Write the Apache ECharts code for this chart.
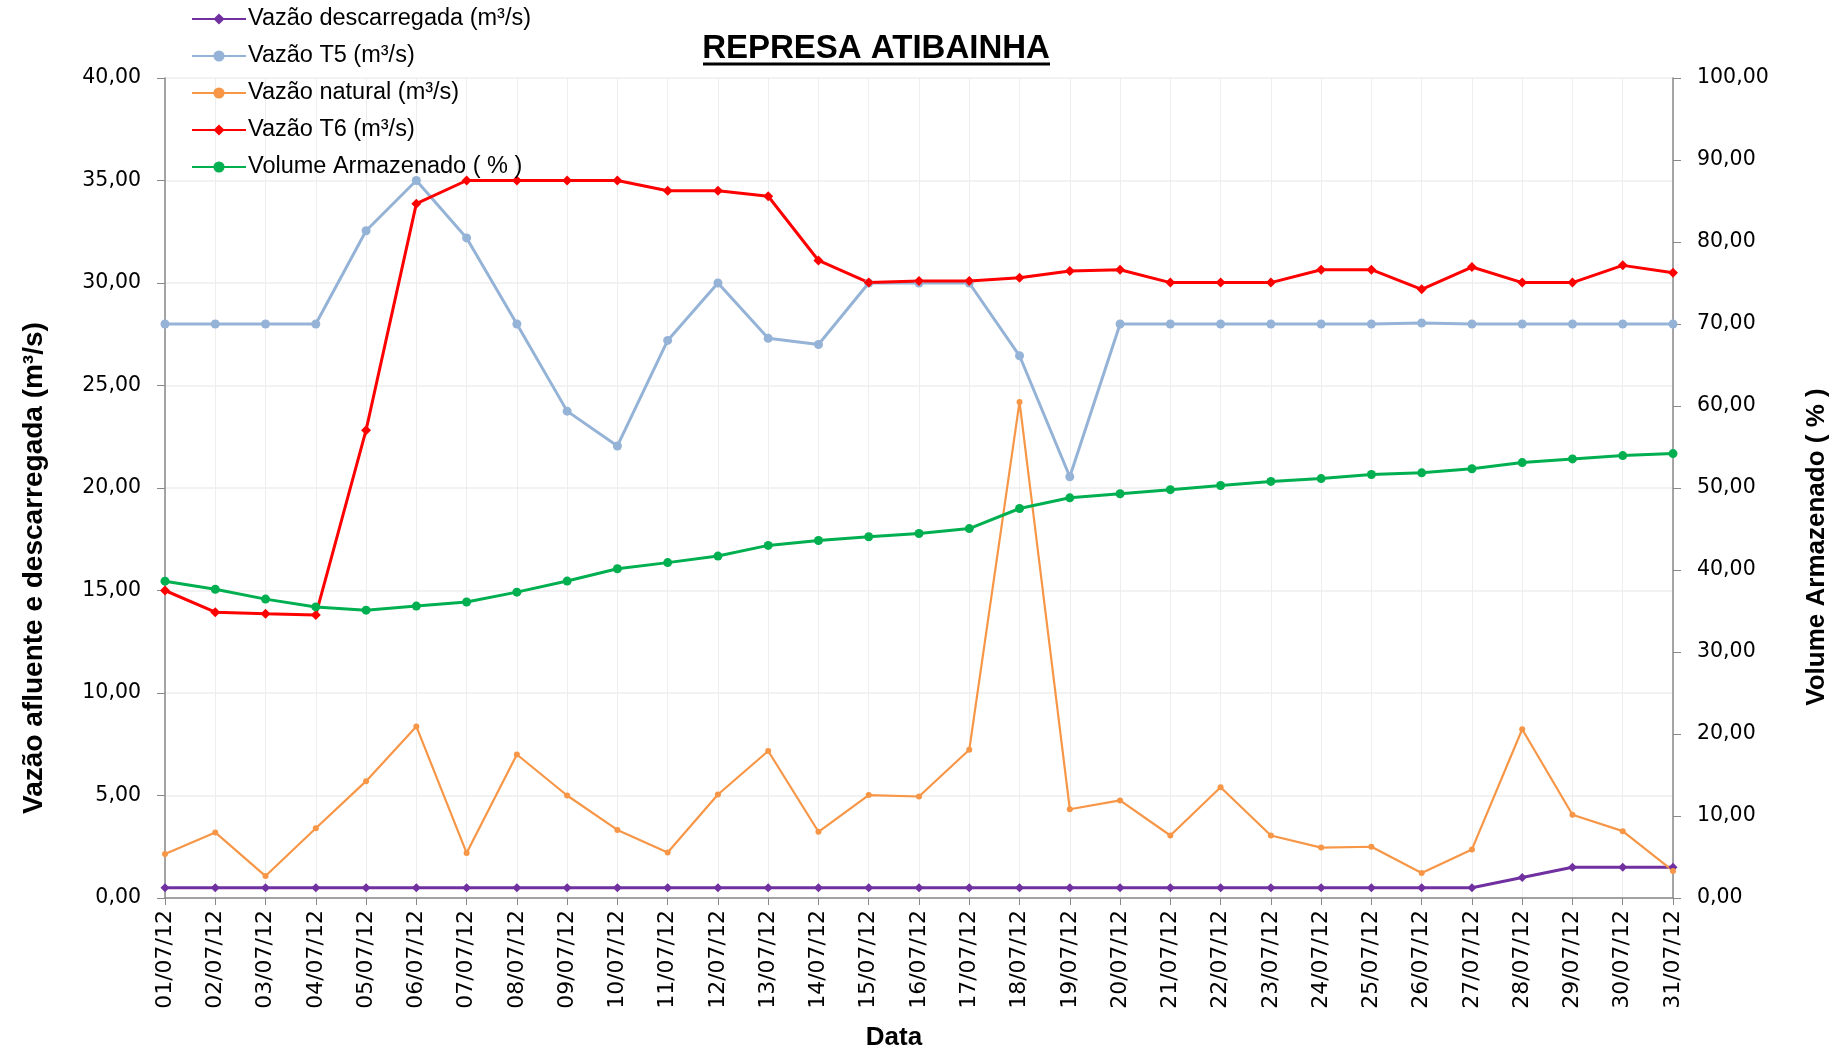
<!DOCTYPE html>
<html lang="pt">
<head>
    <meta charset="UTF-8">
    <title>Represa Atibainha</title>
    <style>
        html, body { margin: 0; padding: 0; background: #fff; }
    </style>
</head>
<body>
<div id="main" style="width: 1837px;height:1053px;"></div>
<script type="text/javascript" src="https://cdn.jsdelivr.net/npm/echarts@6/dist/echarts.min.js"></script>
<script type="text/javascript">

    // dias de julho/2012
    var datas = [];
    for (var d = 1; d <= 31; d++) {
        datas.push((d < 10 ? '0' + d : '' + d) + '/07/12');
    }

    var vazaoDescarregada = [0.5,0.5,0.5,0.5,0.5,0.5,0.5,0.5,0.5,0.5,0.5,0.5,0.5,0.5,0.5,0.5,0.5,0.5,0.5,0.5,
        0.5,0.5,0.5,0.5,0.5,0.5,0.5,1.0,1.5,1.5,1.5];
    var vazaoT5 = [28,28,28,28,32.55,35,32.2,28,23.75,22.05,27.2,30,27.3,27.0,30,30,30,26.45,20.55,28,
        28,28,28,28,28,28.05,28,28,28,28,28];
    var vazaoNatural = [2.15,3.2,1.07,3.4,5.7,8.37,2.2,7.0,5.0,3.32,2.22,5.05,7.17,3.23,5.02,4.95,7.23,24.2,4.33,4.76,
        3.05,5.4,3.05,2.46,2.5,1.22,2.37,8.23,4.06,3.26,1.32];
    var vazaoT6 = [15.0,13.94,13.87,13.81,22.82,33.87,35,35,35,35,34.5,34.5,34.23,31.1,30.02,30.1,30.1,30.26,30.58,30.65,
        30.02,30.02,30.02,30.65,30.65,29.69,30.78,30.02,30.02,30.86,30.5];
    var volumeArmazenado = [38.64,37.65,36.45,35.5,35.1,35.6,36.1,37.3,38.65,40.15,40.9,41.7,43.0,43.6,44.05,44.45,45.05,47.5,48.8,49.3,
        49.8,50.3,50.8,51.15,51.65,51.85,52.35,53.1,53.55,53.95,54.2];

    var fonte = 'Liberation Sans, Arial, sans-serif';
    var fonteEixo = 'DejaVu Sans, Verdana, sans-serif';

    function virgula(v) {
        return v.toFixed(2).replace('.', ',');
    }

    var myChart = echarts.init(document.getElementById('main'));

    myChart.setOption({
        animation: false,
        textStyle: { fontFamily: fonte },
        graphic: [
            {
                type: 'text',
                x: 876, y: 49,
                style: {
                    text: 'REPRESA ATIBAINHA',
                    font: 'bold 33px ' + fonte,
                    fill: '#000',
                    align: 'center',
                    verticalAlign: 'middle'
                }
            },
            {
                type: 'line',
                shape: { x1: 703, y1: 64, x2: 1050, y2: 64 },
                style: { stroke: '#000', lineWidth: 3 }
            }
        ],
        legend: {
            orient: 'vertical',
            left: 186,
            top: 2,
            itemGap: 13,
            itemWidth: 54,
            itemHeight: 14,
            textStyle: { fontSize: 23.5, color: '#000', fontFamily: fonte, padding: [0, 0, 0, -3] },
            data: ['Vazão descarregada (m³/s)', 'Vazão T5 (m³/s)', 'Vazão natural (m³/s)', 'Vazão T6 (m³/s)', 'Volume Armazenado ( % )']
        },
        grid: {
            left: 165,
            right: 164,
            top: 78,
            bottom: 155,
            containLabel: false,
            outerBoundsMode: 'none'
        },
        xAxis: {
            type: 'category',
            boundaryGap: false,
            data: datas,
            name: 'Data',
            nameLocation: 'middle',
            nameGap: 127,
            nameTextStyle: { fontSize: 26, fontWeight: 'bold', color: '#000', fontFamily: fonte, padding: [0, 50, 0, 0] },
            axisLine: { lineStyle: { color: '#888', width: 1.5 } },
            axisTick: { show: true, alignWithLabel: true, length: 7, lineStyle: { color: '#888' } },
            axisLabel: { rotate: 90, fontSize: 22, color: '#000', margin: 12, interval: 0, fontFamily: fonteEixo },
            splitLine: { show: true, lineStyle: { color: '#eeeeee', width: 1 } }
        },
        yAxis: [
            {
                type: 'value',
                min: 0,
                max: 40,
                interval: 5,
                name: 'Vazão afluente e descarregada (m³/s)',
                nameLocation: 'middle',
                nameRotate: 90,
                nameGap: 117,
                nameTextStyle: { fontSize: 28, fontWeight: 'bold', color: '#000', fontFamily: fonte, padding: [0, 160, 0, 0] },
                axisLine: { show: true, lineStyle: { color: '#888', width: 1.5 } },
                axisTick: { show: true, length: 8, lineStyle: { color: '#888' } },
                axisLabel: { fontSize: 20.5, color: '#000', margin: 24, formatter: virgula, fontFamily: fonteEixo },
                splitLine: { show: true, lineStyle: { color: '#eeeeee', width: 1.5 } }
            },
            {
                type: 'value',
                min: 0,
                max: 100,
                interval: 10,
                position: 'right',
                name: 'Volume Armazenado ( % )',
                nameLocation: 'middle',
                nameRotate: 90,
                nameGap: 131,
                nameTextStyle: { fontSize: 26, fontWeight: 'bold', color: '#000', fontFamily: fonte, padding: [0, 118, 0, 0] },
                axisLine: { show: true, lineStyle: { color: '#888', width: 1.5 } },
                axisTick: { show: true, length: 8, lineStyle: { color: '#888' } },
                axisLabel: { fontSize: 20.5, color: '#000', margin: 24, formatter: virgula, fontFamily: fonteEixo },
                splitLine: { show: false }
            }
        ],
        series: [
            {
                name: 'Vazão descarregada (m³/s)',
                type: 'line',
                data: vazaoDescarregada,
                symbol: 'diamond',
                symbolSize: 9,
                lineStyle: { color: '#7030A0', width: 3 },
                itemStyle: { color: '#7030A0' }
            },
            {
                name: 'Vazão T5 (m³/s)',
                type: 'line',
                data: vazaoT5,
                symbol: 'circle',
                symbolSize: 9,
                lineStyle: { color: '#95B3D7', width: 3 },
                itemStyle: { color: '#95B3D7' }
            },
            {
                name: 'Vazão natural (m³/s)',
                type: 'line',
                data: vazaoNatural,
                symbol: 'circle',
                symbolSize: 6,
                lineStyle: { color: '#F79646', width: 2.2 },
                itemStyle: { color: '#F79646' }
            },
            {
                name: 'Vazão T6 (m³/s)',
                type: 'line',
                data: vazaoT6,
                symbol: 'diamond',
                symbolSize: 10,
                lineStyle: { color: '#FF0000', width: 3 },
                itemStyle: { color: '#FF0000' }
            },
            {
                name: 'Volume Armazenado ( % )',
                type: 'line',
                yAxisIndex: 1,
                data: volumeArmazenado,
                symbol: 'circle',
                symbolSize: 9,
                lineStyle: { color: '#00B050', width: 3 },
                itemStyle: { color: '#00B050' }
            }
        ]
    });
</script>
</body>
</html>
